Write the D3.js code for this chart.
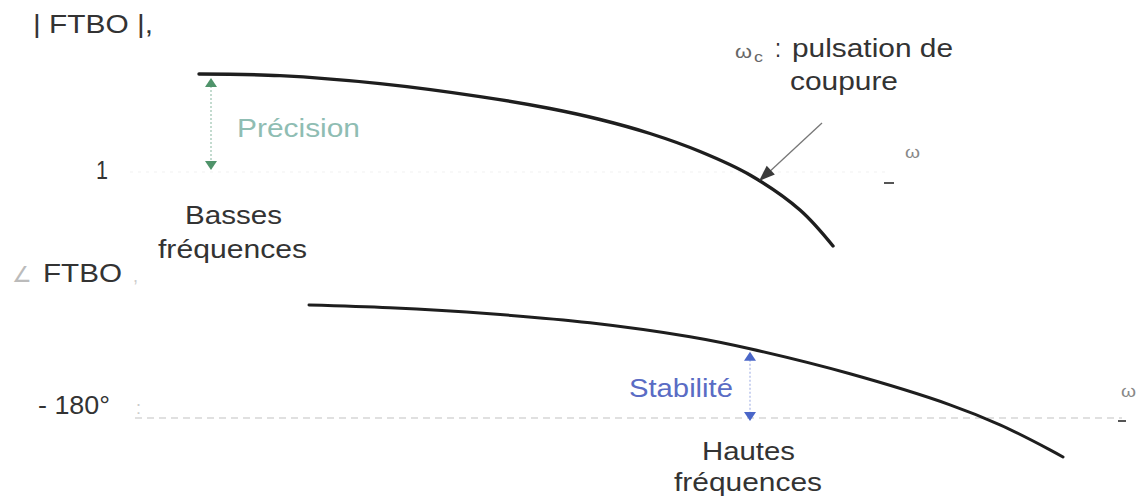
<!DOCTYPE html>
<html>
<head>
<meta charset="utf-8">
<script src="https://cdn.jsdelivr.net/npm/d3@7"></script>
<style>
  html, body { margin: 0; padding: 0; background: #fff; }
  svg { display: block; }
  text { font-family: "Liberation Sans", Arial, sans-serif; }
</style>
</head>
<body>
<script>
// ---- data ----
// normalized pulsation axis (arbitrary units of the sketch)
const omegaMag   = [0.69, 1.5, 2.5, 3.5, 4.2, 4.7, 5.2, 5.7, 6.2, 6.7, 7.03];
const magnitude  = [9.8, 9.64, 8.84, 7.54, 6.35, 5.25, 3.85, 2.05, -0.3, -3.8, -7.4]; // |FTBO| (level "1" = 0)
const omegaPhase = [1.79, 2.6, 3.6, 4.6, 5.6, 6.2, 7.2, 8.2, 8.7, 9.2, 9.33];
const phase      = [-67, -69.8, -75.8, -84.8, -98.8, -110.8, -135.8, -166.8, -186.8, -211.8, -219]; // degrees
const magTickValue = 0,    magTickLabel = "1";
const phaseTickValue = -180, phaseTickLabel = "- 180°";
const precisionAt = 0.81;   // pulsation of the "Précision" marker
const stabiliteAt = 6.2;    // pulsation of the "Stabilité" marker
const cutoffAt = 6.3;       // ωc

const W = 1137, H = 502;
const svg = d3.select("body").append("svg").attr("width", W).attr("height", H);

const x  = d3.scaleLinear().domain([0, 10]).range([130, 1130]);
const yM = d3.scaleLinear().domain([0, 10]).range([172, 72]);
const yP = d3.scaleLinear().domain([-180, -60]).range([418, 298]);

const ink = "#333";

function txt(s, px, py, len, opts = {}) {
  const t = svg.append("text")
    .attr("x", px).attr("y", py)
    .attr("font-size", opts.size || 25)
    .attr("fill", opts.fill || ink)
    .text(s);
  if (len) t.attr("textLength", len).attr("lengthAdjust", "spacingAndGlyphs");
  return t;
}

// ---- faint axes ----
svg.append("line")
  .attr("x1", x(0)).attr("x2", 890)
  .attr("y1", yM(magTickValue)).attr("y2", yM(magTickValue))
  .attr("stroke", "#f1f1f1").attr("stroke-width", 1.2).attr("stroke-dasharray", "3,5");
svg.append("line")
  .attr("x1", x(0.05)).attr("x2", 1122)
  .attr("y1", yP(phaseTickValue)).attr("y2", yP(phaseTickValue))
  .attr("stroke", "#d6d6d6").attr("stroke-width", 1.3).attr("stroke-dasharray", "7,5");
// small axis-end marks
svg.append("line").attr("x1", 884).attr("x2", 894).attr("y1", 183).attr("y2", 183)
  .attr("stroke", "#555").attr("stroke-width", 2);
svg.append("line").attr("x1", 1118).attr("x2", 1126).attr("y1", yP(phaseTickValue) + 3).attr("y2", yP(phaseTickValue) + 3)
  .attr("stroke", "#555").attr("stroke-width", 2);

// ---- curves ----
const magData = omegaMag.map((w, i) => [w, magnitude[i]]);
const phData  = omegaPhase.map((w, i) => [w, phase[i]]);

svg.append("path")
  .attr("d", d3.line().x(d => x(d[0])).y(d => yM(d[1])).curve(d3.curveCatmullRom.alpha(0.5))(magData))
  .attr("fill", "none").attr("stroke", "#1e1e1e").attr("stroke-width", 3.4).attr("stroke-linecap", "round");
svg.append("path")
  .attr("d", d3.line().x(d => x(d[0])).y(d => yP(d[1])).curve(d3.curveCatmullRom.alpha(0.5))(phData))
  .attr("fill", "none").attr("stroke", "#1e1e1e").attr("stroke-width", 3).attr("stroke-linecap", "round");

// ---- double arrows ----
function doubleArrow(px, yTop, yBot, lineCol, headCol) {
  svg.append("line").attr("x1", px).attr("x2", px).attr("y1", yTop + 8).attr("y2", yBot - 8)
    .attr("stroke", lineCol).attr("stroke-width", 1.2).attr("stroke-dasharray", "2,2");
  svg.append("path").attr("d", `M${px},${yTop} L${px - 6},${yTop + 9} L${px + 6},${yTop + 9} Z`).attr("fill", headCol);
  svg.append("path").attr("d", `M${px},${yBot} L${px - 6},${yBot - 9} L${px + 6},${yBot - 9} Z`).attr("fill", headCol);
}
doubleArrow(x(precisionAt), yM(9.8) + 4, yM(magTickValue) - 2, "#9cc4b0", "#4f936a");
doubleArrow(x(stabiliteAt), yP(-110.8) + 3, yP(phaseTickValue) + 3, "#a8b6e6", "#4a66c8");

// ---- ωc pointer ----
const tipX = x(cutoffAt) - 1, tipY = yM(-0.8) + 1;
svg.append("line").attr("x1", 822).attr("y1", 123).attr("x2", tipX + 8).attr("y2", tipY - 7)
  .attr("stroke", "#777").attr("stroke-width", 1.3);
(function () {
  const ang = Math.atan2(tipY - 123, tipX - 822);
  const L = 16, Wd = 6;
  const bx = tipX - L * Math.cos(ang), by = tipY - L * Math.sin(ang);
  const nx = -Math.sin(ang), ny = Math.cos(ang);
  svg.append("path")
    .attr("d", `M${tipX},${tipY} L${bx + nx * Wd},${by + ny * Wd} L${bx - nx * Wd},${by - ny * Wd} Z`)
    .attr("fill", "#3a3a3a");
})();

// ---- texts ----
txt("| FTBO |,", 33, 33, 120);
txt(magTickLabel, 96, 179, 12);
txt("Précision", 237, 137, 123, { fill: "#8fbdb3" });
txt("Basses", 185, 224, 97);
txt("fréquences", 158, 258, 149);
txt("∠", 12, 282, 20, { fill: "#bbb", size: 22 });
txt("FTBO", 43, 282, 79);
txt(",", 133, 282, null, { fill: "#ccc", size: 18 });
txt(phaseTickLabel, 38, 414, 72);
txt(":", 136, 414, null, { fill: "#ccc", size: 18 });

txt("ω", 735, 58, 17, { size: 18, fill: "#666" });
txt("c", 754, 62, 9, { size: 14, fill: "#666" });
txt(":", 775, 57, 6);
txt("pulsation de", 792, 57, 161);
txt("coupure", 790, 90, 108);
txt("ω", 905, 158, 15, { size: 16, fill: "#888" });

txt("Stabilité", 629, 397, 104, { fill: "#5a6cc4" });
txt("Hautes", 702, 460, 93);
txt("fréquences", 674, 491, 148);
txt("ω", 1121, 397, 15, { size: 16, fill: "#888" });
</script>
</body>
</html>
